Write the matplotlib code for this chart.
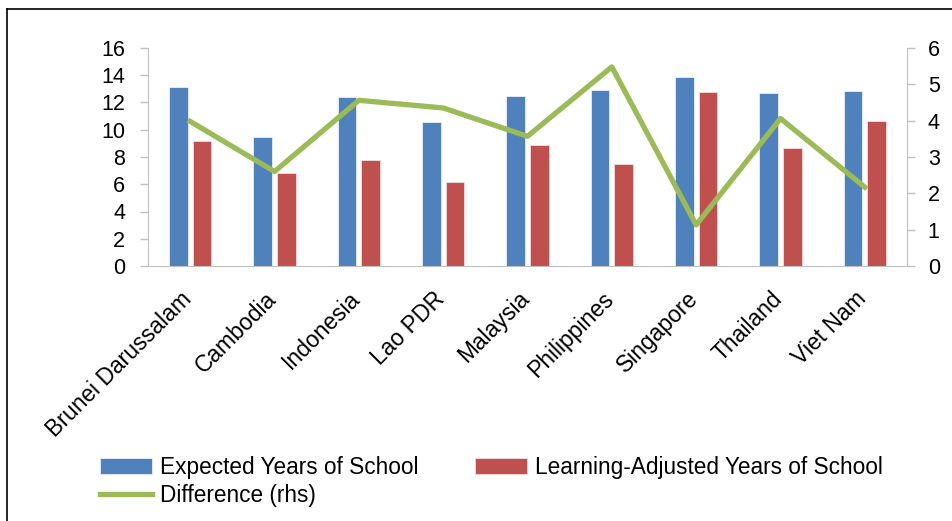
import matplotlib
matplotlib.use("Agg")
import matplotlib.pyplot as plt
import matplotlib.transforms as mtransforms
import numpy as np
from matplotlib.lines import Line2D

plt.rcParams['font.family'] = ['Liberation Sans', 'DejaVu Sans']

countries = ["Brunei Darussalam", "Cambodia", "Indonesia", "Lao PDR", "Malaysia",
             "Philippines", "Singapore", "Thailand", "Viet Nam"]
expected = [13.15, 9.45, 12.4, 10.6, 12.45, 12.95, 13.9, 12.7, 12.85]
adjusted = [9.2, 6.8, 7.8, 6.2, 8.85, 7.45, 12.8, 8.65, 10.65]
difference = [3.98, 2.6, 4.56, 4.35, 3.57, 5.48, 1.13, 4.06, 2.17]

blue = "#4f81bd"
red = "#c0504d"
green = "#9bbb59"
grey = "#bfbfbf"

fig = plt.figure(figsize=(9.53, 5.21), dpi=100)
ax = fig.add_axes([148/953, 1-266/521, 759/953, 218/521])
ax2 = ax.twinx()

x = np.arange(len(countries))
w = 0.22
b1 = ax.bar(x - 0.14, expected, w, color=blue, edgecolor="#e8eef6", linewidth=0.6,
            label="Expected Years of School")
b2 = ax.bar(x + 0.14, adjusted, w, color=red, edgecolor="#f3dcdc", linewidth=0.6,
            label="Learning-Adjusted Years of School")
ln, = ax2.plot(x, difference, color=green, linewidth=3.8, label="Difference (rhs)")

ax.set_xlim(-0.5, len(countries) - 0.5)
ax.set_ylim(0, 16)
ax.set_yticks(range(0, 17, 2))
ax2.set_ylim(0, 6)
ax2.set_yticks(range(0, 7))

for a in (ax, ax2):
    for s in a.spines.values():
        s.set_visible(False)
    a.tick_params(axis="y", colors=grey, labelcolor="black", labelsize=15.5,
                  length=6, width=1)
ax.tick_params(axis="y", pad=10.5)
ax2.tick_params(axis="y", pad=9)
ax.spines["left"].set_visible(True)
ax.spines["left"].set_color(grey)
ax.spines["bottom"].set_visible(True)
ax.spines["bottom"].set_color(grey)
ax2.spines["right"].set_visible(True)
ax2.spines["right"].set_color(grey)

ax.set_xticks(x)
ax.set_xticklabels(countries, rotation=45, ha="right", rotation_mode="anchor",
                   fontsize=16.5)
ax.tick_params(axis="x", length=0, pad=6)
shift = mtransforms.ScaledTranslation(-10/100, -13/100, fig.dpi_scale_trans)
for lab in ax.get_xticklabels():
    lab.set_transform(lab.get_transform() + shift)

fig.legend(handles=[b1, ln, b2], loc="upper left", bbox_to_anchor=(100/953, 1-456/521),
           ncol=2, frameon=False, fontsize=16.3, handlelength=2.3, handleheight=0.7,
           handletextpad=0.35, columnspacing=2.5, labelspacing=0.2, borderpad=0,
           borderaxespad=0)

# outer frame
fig.add_artist(Line2D([7/953, 7/953], [0, 1-9/521], transform=fig.transFigure,
                      color="black", linewidth=1.2))
fig.add_artist(Line2D([7/953, 1], [1-9/521, 1-9/521], transform=fig.transFigure,
                      color="black", linewidth=1.2))

fig.savefig("out.png", dpi=100)
